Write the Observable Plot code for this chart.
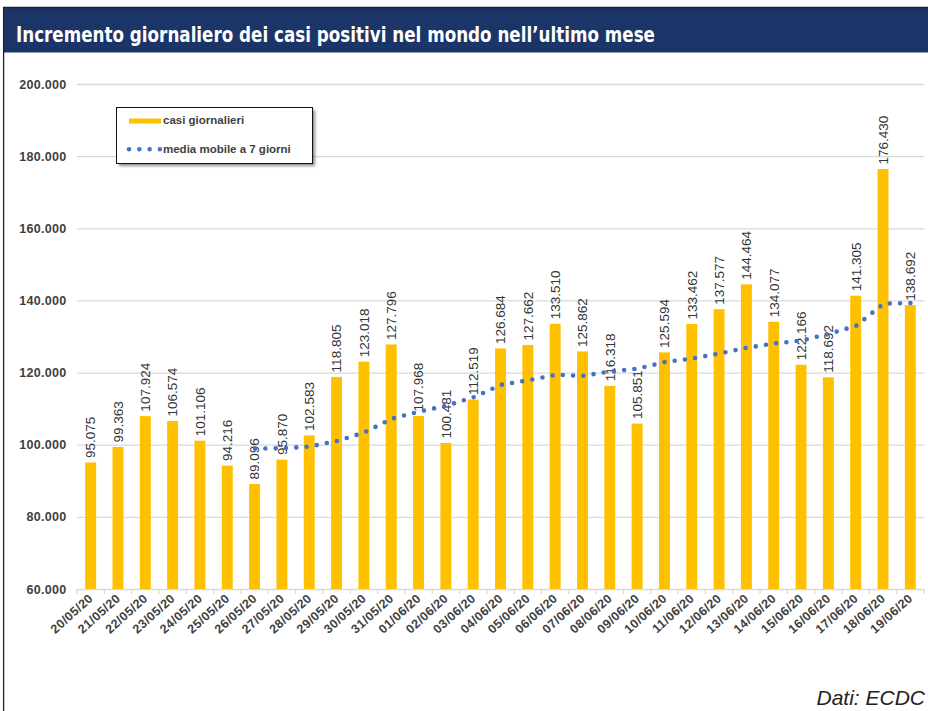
<!DOCTYPE html>
<html>
<head>
<meta charset="utf-8">
<script src="https://cdn.jsdelivr.net/npm/d3@7"></script>
<script src="https://cdn.jsdelivr.net/npm/@observablehq/plot@0.6"></script>
<style>
  body { margin: 0; background: #fff; font-family: "Liberation Sans", Arial, sans-serif; }
  #page { position: relative; width: 928px; height: 711px; overflow: hidden; background: #fff; }
  #chart { position: absolute; left: 0; top: 52px; }
  #deco { position: absolute; left: 0; top: 0; pointer-events: none; }
  #chart g[aria-label="x-axis tick label"] text { letter-spacing: 0.4px; }
  #chart g[aria-label="y-axis tick label"] text { letter-spacing: 0.3px; }
</style>
</head>
<body>
<div id="page">
  <div id="chart"></div>
  <svg id="deco" width="928" height="711" xmlns="http://www.w3.org/2000/svg"></svg>
</div>
<script>
// ---- data ----
const titleText = "Incremento giornaliero dei casi positivi nel mondo nell’ultimo mese";
const captionText = "Dati: ECDC";
const legendBars = "casi giornalieri";
const legendLine = "media mobile a 7 giorni";

const dates = ["20/05/20","21/05/20","22/05/20","23/05/20","24/05/20","25/05/20","26/05/20","27/05/20",
  "28/05/20","29/05/20","30/05/20","31/05/20","01/06/20","02/06/20","03/06/20","04/06/20","05/06/20",
  "06/06/20","07/06/20","08/06/20","09/06/20","10/06/20","11/06/20","12/06/20","13/06/20","14/06/20",
  "15/06/20","16/06/20","17/06/20","18/06/20","19/06/20"];
const cases = [95075, 99363, 107924, 106574, 101106, 94216, 89096, 95870, 102583, 118805, 123018, 127796,
  107968, 100481, 112519, 126684, 127662, 133510, 125862, 116318, 105851, 125594, 133462, 137577, 144464,
  134077, 122166, 118692, 141305, 176430, 138692];
const maDates = ["26/05/20","27/05/20","28/05/20","29/05/20","30/05/20","31/05/20","01/06/20","02/06/20",
  "03/06/20","04/06/20","05/06/20","06/06/20","07/06/20","08/06/20","09/06/20","10/06/20","11/06/20",
  "12/06/20","13/06/20","14/06/20","15/06/20","16/06/20","17/06/20","18/06/20","19/06/20"];
const movingAvg = [99051, 99164, 99624, 101179, 103528, 107341, 109305, 110932, 113310, 116753, 118018,
  119517, 119241, 120434, 121201, 123069, 124037, 125453, 127018, 128192, 129027, 130862, 133106, 139244, 139404];
const yTicks = [60000, 80000, 100000, 120000, 140000, 160000, 180000, 200000];

// ---- chart ----
const fmt = d3.formatLocale({decimal: ",", thousands: ".", grouping: [3], currency: ["€", ""]}).format(",d");
const barData = dates.map((d, i) => ({date: d, value: cases[i]}));
const maData = maDates.map((d, i) => ({date: d, value: movingAvg[i]}));
const BAR = "#FFC000", LINE = "#4472C4", GRID = "#d9d9d9";

function boundaryTicks(index, scales) {
  const x = scales.x, y = scales.y;
  const step = x(dates[1]) - x(dates[0]);
  const bw = step * 0.4;
  const y0 = y(yTicks[0]);
  const g = d3.create("svg:g").attr("stroke", GRID).attr("stroke-width", 1.3);
  const bounds = dates.map(d => x(d) + bw / 2 - step / 2);
  bounds.push(x(dates[dates.length - 1]) + bw / 2 + step / 2);
  for (const b of bounds) g.append("line").attr("x1", b).attr("x2", b).attr("y1", y0).attr("y2", y0 + 5);
  return g.node();
}

const chart = Plot.plot({
  width: 928,
  height: 610,
  marginTop: 32,
  marginBottom: 73,
  marginLeft: 77,
  marginRight: 4,
  style: {fontFamily: "'Liberation Sans', Arial, sans-serif", color: "#404040", background: "transparent", overflow: "visible"},
  x: {domain: dates, paddingInner: 0.6, paddingOuter: 0.3, round: false, label: null},
  y: {domain: [60000, 200000], label: null},
  marks: [
    Plot.ruleY(yTicks, {stroke: GRID, strokeWidth: 1.3}),
    Plot.barY(barData, {x: "date", y1: yTicks[0], y2: "value", fill: BAR}),
    Plot.text(barData, {x: "date", y: "value", text: d => fmt(d.value), rotate: -90, textAnchor: "start",
      lineAnchor: "middle", dy: -5, fontSize: 13.5, fill: "#333"}),
    Plot.line(maData, {x: "date", y: "value", stroke: LINE, strokeWidth: 4.6, strokeDasharray: "0 10.3",
      strokeLinecap: "round", strokeLinejoin: "round"}),
    Plot.axisY({ticks: yTicks, tickFormat: fmt, tickSize: 0, tickPadding: 11, fontSize: 12.5, fontWeight: "bold", fill: "#404040"}),
    Plot.axisX({tickSize: 0, tickRotate: -42, tickPadding: 7, fontSize: 12.5, fontWeight: "bold", fill: "#404040"}),
    boundaryTicks
  ]
});
document.getElementById("chart").appendChild(chart);

// ---- decorations: header, frame, legend, caption ----
const deco = d3.select("#deco");
const defs = deco.append("defs");
const f = defs.append("filter").attr("id", "shadow").attr("x", "-10%").attr("y", "-10%").attr("width", "130%").attr("height", "150%");
f.append("feGaussianBlur").attr("stdDeviation", 1.5);

deco.append("rect").attr("x", 4).attr("y", 8).attr("width", 924).attr("height", 44.5).attr("fill", "#1b3568");
deco.append("line").attr("x1", 3).attr("x2", 928).attr("y1", 7.5).attr("y2", 7.5).attr("stroke", "#222").attr("stroke-width", 1.3);
deco.append("line").attr("x1", 3.6).attr("x2", 3.6).attr("y1", 7).attr("y2", 711).attr("stroke", "#222").attr("stroke-width", 1.3);
deco.append("text").attr("x", 16).attr("y", 41.7).attr("textLength", 639).attr("lengthAdjust", "spacingAndGlyphs")
  .attr("fill", "#fff").attr("font-family", "'Liberation Sans Narrow','DejaVu Sans Condensed','Liberation Sans',sans-serif")
  .attr("font-weight", "bold").attr("font-size", 21).text(titleText);

const lg = deco.append("g").attr("transform", "translate(116,107)");
lg.append("rect").attr("x", 3).attr("y", 3).attr("width", 196).attr("height", 56).attr("fill", "rgba(0,0,0,0.45)").attr("filter", "url(#shadow)");
lg.append("rect").attr("x", 0.5).attr("y", 0.5).attr("width", 196).attr("height", 56).attr("fill", "#fff").attr("stroke", "#111").attr("stroke-width", 1);
lg.append("rect").attr("x", 13).attr("y", 11.5).attr("width", 32).attr("height", 5).attr("fill", BAR);
lg.append("line").attr("x1", 13).attr("x2", 44).attr("y1", 42.3).attr("y2", 42.3).attr("stroke", LINE)
  .attr("stroke-width", 4.6).attr("stroke-dasharray", "0 10.3").attr("stroke-linecap", "round");
lg.selectAll("text.lg").data([[legendBars, 16.8], [legendLine, 46.3]]).join("text")
  .attr("x", 47).attr("y", d => d[1]).attr("font-size", 11.5).attr("font-weight", "bold").attr("fill", "#404040")
  .attr("font-family", "'Liberation Sans', Arial, sans-serif").text(d => d[0]);

deco.append("text").attr("x", 925).attr("y", 705).attr("text-anchor", "end").attr("font-style", "italic")
  .attr("font-size", 21).attr("fill", "#222").attr("font-family", "'Liberation Sans', Arial, sans-serif").text(captionText);
</script>
</body>
</html>
